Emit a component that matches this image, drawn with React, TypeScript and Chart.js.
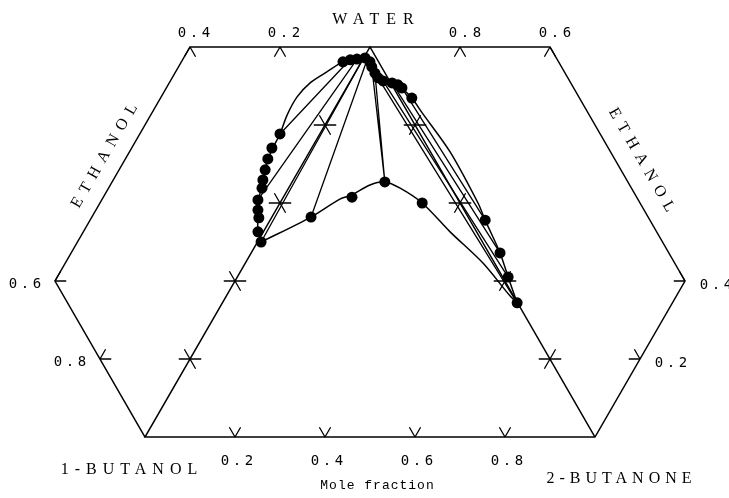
import { useEffect, useRef } from "react";
import { Chart, registerables } from "chart.js";

Chart.register(...registerables);

// Unfolded ternary diagram. x = position on the 1-butanol -> 2-butanone base scale,
// s = level of water (+ ethanol in the side triangles): 0 on the base, 1 on the top edge.

// Binodal envelope of the two ethanol side triangles (joined through the water corner)
const envelopeX = [0.258, 0.251, 0.251, 0.253, 0.258, 0.264, 0.273, 0.284, 0.300, 0.316, 0.338, 0.367, 0.404, 0.440, 0.471, 0.491, 0.502, 0.509, 0.518, 0.533, 0.556, 0.573, 0.593, 0.616, 0.678, 0.740, 0.756, 0.789, 0.807, 0.827];
const envelopeS = [0.500, 0.531, 0.569, 0.608, 0.638, 0.672, 0.710, 0.741, 0.777, 0.826, 0.872, 0.908, 0.936, 0.962, 0.969, 0.969, 0.959, 0.941, 0.923, 0.913, 0.905, 0.892, 0.869, 0.831, 0.731, 0.600, 0.556, 0.472, 0.410, 0.344];

// Binodal of water / 1-butanol / 2-butanone (main triangle)
const mainBinodalX = [0.258, 0.369, 0.433, 0.460, 0.500, 0.533, 0.567, 0.616, 0.678, 0.751, 0.811, 0.827];
const mainBinodalS = [0.500, 0.564, 0.610, 0.621, 0.646, 0.654, 0.638, 0.600, 0.526, 0.446, 0.362, 0.344];

// Experimental points
const pointsX = [0.258, 0.251, 0.253, 0.251, 0.251, 0.260, 0.262, 0.267, 0.273, 0.282, 0.300,
  0.440, 0.456, 0.471, 0.489, 0.500, 0.504, 0.511, 0.518, 0.529, 0.549, 0.562, 0.571, 0.593,
  0.369, 0.460, 0.533, 0.616,
  0.756, 0.789, 0.807, 0.827];
const pointsS = [0.500, 0.526, 0.562, 0.582, 0.608, 0.638, 0.659, 0.685, 0.713, 0.741, 0.777,
  0.962, 0.967, 0.969, 0.972, 0.962, 0.949, 0.933, 0.921, 0.913, 0.908, 0.903, 0.895, 0.869,
  0.564, 0.615, 0.654, 0.600,
  0.556, 0.472, 0.410, 0.344];

// Tie lines
const tieFromX = [0.300, 0.251, 0.258, 0.369, 0.533, 0.533, 0.518, 0.529, 0.549, 0.571];
const tieFromS = [0.777, 0.608, 0.500, 0.564, 0.654, 0.654, 0.921, 0.913, 0.908, 0.895];
const tieToX = [0.451, 0.467, 0.482, 0.491, 0.504, 0.511, 0.827, 0.807, 0.789, 0.756];
const tieToS = [0.962, 0.962, 0.964, 0.959, 0.949, 0.933, 0.344, 0.410, 0.472, 0.556];

// Tick values
const baseTicks = [0.2, 0.4, 0.6, 0.8]; // 2-butanone
const topLeftTicks = [0.4, 0.2]; // ethanol
const topRightTicks = [0.8, 0.6]; // water
const leftTicks = [0.6, 0.8]; // 1-butanol
const rightTicks = [0.4, 0.2]; // ethanol
const innerTicks = [0.2, 0.4, 0.6, 0.8]; // water on the shared edges
const ethanolLimit = 0.4;

const TICK = 0.025;

type Pt = { x: number; y: number | null };
type Seg = [number, number, number, number];

function segs(list: Seg[]): Pt[] {
  const out: Pt[] = [];
  for (const [x1, y1, x2, y2] of list) {
    out.push({ x: x1, y: y1 }, { x: x2, y: y2 }, { x: x2, y: null });
  }
  return out;
}

function fmt(v: number) {
  return v.toFixed(1);
}

export default function App() {
  const ref = useRef<HTMLCanvasElement | null>(null);

  useEffect(() => {
    const canvas = ref.current;
    if (!canvas) return;
    const L = TICK;
    const e = ethanolLimit;

    const outline: Pt[] = [
      { x: 0, y: 0 },
      { x: -0.5 * e, y: e },
      { x: 0.5 - e, y: 1 },
      { x: 0.5 + e, y: 1 },
      { x: 1 + 0.5 * e, y: e },
      { x: 1, y: 0 },
      { x: 0, y: 0 },
      { x: 0.5, y: 1 },
      { x: 1, y: 0 },
    ];

    const tickSegs: Seg[] = [];
    baseTicks.forEach((k) => {
      tickSegs.push([k, 0, k - 0.5 * L, L], [k, 0, k + 0.5 * L, L]);
    });
    topLeftTicks.forEach((et) => {
      const x = 0.5 - et;
      tickSegs.push([x, 1, x - 0.5 * L, 1 - L], [x, 1, x + 0.5 * L, 1 - L]);
    });
    topRightTicks.forEach((w) => {
      const x = 1.5 - w;
      tickSegs.push([x, 1, x - 0.5 * L, 1 - L], [x, 1, x + 0.5 * L, 1 - L]);
    });
    leftTicks.forEach((b) => {
      const et = 1 - b;
      const x = -0.5 * et;
      tickSegs.push([x, et, x + L, et], [x, et, x + 0.5 * L, et + L]);
    });
    rightTicks.forEach((et) => {
      const x = 1 + 0.5 * et;
      tickSegs.push([x, et, x - L, et], [x, et, x - 0.5 * L, et + L]);
    });
    innerTicks.forEach((w) => {
      const x1 = 0.5 * w;
      tickSegs.push([x1 - L, w, x1 + L, w], [x1 - 0.5 * L, w + L, x1 + 0.5 * L, w - L]);
      const x2 = 1 - 0.5 * w;
      tickSegs.push([x2 - L, w, x2 + L, w], [x2 - 0.5 * L, w - L, x2 + 0.5 * L, w + L]);
    });

    const ties: Seg[] = tieFromX.map((_, i) => [tieFromX[i], tieFromS[i], tieToX[i], tieToS[i]]);

    const lineStyle = {
      showLine: true,
      borderColor: "#000",
      borderWidth: 1.5,
      pointRadius: 0,
      pointHoverRadius: 0,
      spanGaps: false,
      fill: false,
    };

    const labelPlugin = {
      id: "ternaryLabels",
      afterDatasetsDraw(chart: any) {
        const ctx: CanvasRenderingContext2D = chart.ctx;
        const xs = chart.scales.x;
        const ys = chart.scales.y;
        const px = (x: number) => xs.getPixelForValue(x);
        const py = (s: number) => ys.getPixelForValue(s);
        const draw = (
          text: string,
          cx: number,
          cy: number,
          font: string,
          ls: number,
          rot = 0
        ) => {
          ctx.save();
          ctx.font = font;
          (ctx as any).letterSpacing = ls + "px";
          ctx.fillStyle = "#000";
          ctx.textBaseline = "middle";
          ctx.textAlign = "left";
          const w = ctx.measureText(text).width;
          ctx.translate(cx, cy);
          ctx.rotate(rot);
          ctx.fillText(text, -(w - ls) / 2, 0);
          ctx.restore();
        };
        const numFont = '14px "DejaVu Sans Mono"';
        const nameFont = '16px "Liberation Serif"';

        draw("WATER", px(0.5) + 3, py(1) - 27, nameFont, 7);
        topLeftTicks.forEach((et) => draw(fmt(et), px(0.5 - et) + 4, py(1) - 14, numFont, 3.5));
        topRightTicks.forEach((w) => draw(fmt(w), px(1.5 - w) + 5, py(1) - 14, numFont, 3.5));
        leftTicks.forEach((b) => draw(fmt(b), px(-0.5 * (1 - b)) - 30, py(1 - b) + 3, numFont, 3.5));
        rightTicks.forEach((et) => draw(fmt(et), px(1 + 0.5 * et) + 31, py(et) + 4, numFont, 3.5));
        baseTicks.forEach((k) => draw(fmt(k), px(k) + 2, py(0) + 24, numFont, 3.5));
        draw("1-BUTANOL", px(0) - 16, py(0) + 33, nameFont, 6);
        draw("2-BUTANONE", px(1) + 24, py(0) + 42, nameFont, 5);
        draw("Mole fraction", px(0.5) + 7, py(0) + 49, '13px "Liberation Mono"', 1);
        const lmx = (px(-0.5 * ethanolLimit) + px(0.5 - ethanolLimit)) / 2;
        const lmy = (py(ethanolLimit) + py(1)) / 2;
        draw("ETHANOL", lmx - 18, lmy - 8, nameFont, 7, -Math.PI / 3);
        const rmx = (px(1 + 0.5 * ethanolLimit) + px(0.5 + ethanolLimit)) / 2;
        draw("ETHANOL", rmx + 24, lmy - 4, nameFont, 7, Math.PI / 3);
      },
    };

    const chart = new Chart(canvas, {
      type: "scatter",
      data: {
        datasets: [
          { ...lineStyle, data: outline, tension: 0 },
          { ...lineStyle, data: segs(tickSegs), tension: 0, borderWidth: 1.3 },
          { ...lineStyle, data: segs(ties), tension: 0, borderWidth: 1.3 },
          {
            ...lineStyle,
            data: envelopeX.map((x, i) => ({ x, y: envelopeS[i] })),
            tension: 0.3,
          },
          {
            ...lineStyle,
            data: mainBinodalX.map((x, i) => ({ x, y: mainBinodalS[i] })),
            tension: 0.3,
          },
          {
            data: pointsX.map((x, i) => ({ x, y: pointsS[i] })),
            showLine: false,
            pointRadius: 5.5,
            pointHoverRadius: 5.5,
            pointBackgroundColor: "#000",
            pointBorderColor: "#000",
            pointBorderWidth: 0,
          },
        ],
      } as any,
      options: {
        animation: false,
        responsive: false,
        events: [],
        layout: { padding: 0, autoPadding: false },
        plugins: { legend: { display: false }, tooltip: { enabled: false } },
        scales: {
          x: { type: "linear", min: -0.3222, max: 1.2978, display: false },
          y: { type: "linear", min: -0.1564, max: 1.1205, display: false },
        },
      } as any,
      plugins: [labelPlugin],
    });
    return () => chart.destroy();
  }, []);

  return (
    <div style={{ position: "fixed", left: 0, top: 0, width: 729, height: 498, background: "#fff" }}>
      <canvas ref={ref} width={729} height={498} style={{ display: "block" }} />
    </div>
  );
}
